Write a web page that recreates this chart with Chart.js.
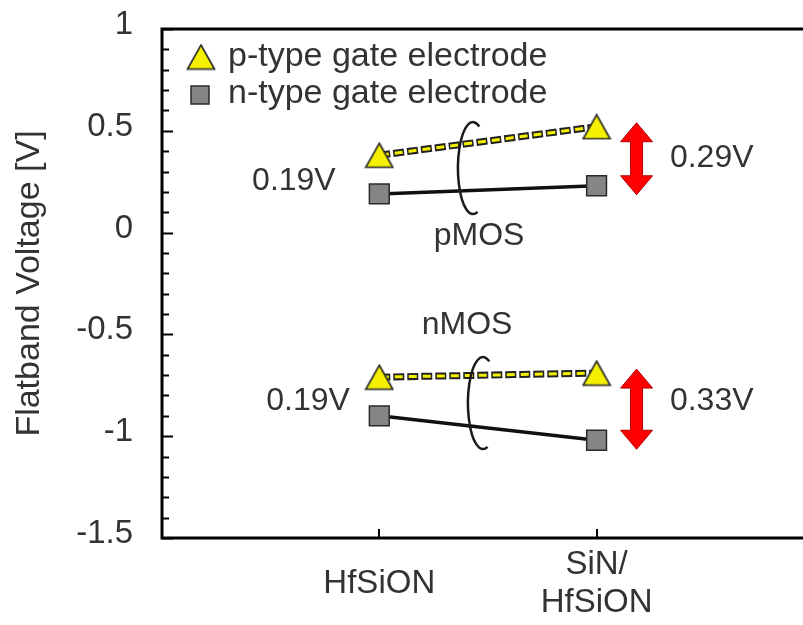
<!DOCTYPE html>
<html>
<head>
<meta charset="utf-8">
<script src="https://cdn.jsdelivr.net/npm/chart.js@4.4.1/dist/chart.umd.min.js"></script>
<style>
  html, body { margin: 0; padding: 0; background: #fff; overflow: hidden; }
  canvas { display: block; }
</style>
</head>
<body>
<canvas id="fbChart" width="803" height="625"></canvas>
<script>
// gate dielectric stacks on the x axis
const categories = ['HfSiON', ['SiN/', 'HfSiON']];
const xPositions = [1, 2];

// flatband voltage [V], pMOS and nMOS, per gate electrode type
const pMosPGate = [0.38, 0.52];
const pMosNGate = [0.19, 0.23];
const nMosPGate = [-0.71, -0.69];
const nMosNGate = [-0.90, -1.02];

const seriesNames = ['p-type gate electrode', 'n-type gate electrode'];
const yTickLabels = [1, 0.5, 0, -0.5, -1, -1.5];

const FONT = "'Liberation Sans', Arial, sans-serif";
const TEXT = '#333';
const YELLOW = '#f4f000';
const GREY = '#858585';

// triangle marker, drawn centred on its bounding box
function makeTriangle() {
  const c = document.createElement('canvas');
  c.width = 30; c.height = 27;
  const g = c.getContext('2d');
  g.beginPath();
  g.moveTo(15, 1.5);
  g.lineTo(28.5, 25.5);
  g.lineTo(1.5, 25.5);
  g.closePath();
  g.fillStyle = YELLOW;
  g.fill();
  g.lineWidth = 1.6;
  g.strokeStyle = '#2a2a2a';
  g.stroke();
  return c;
}
const triangle = makeTriangle();

const pts = vals => xPositions.map((x, i) => ({ x: x, y: vals[i] }));

function pGateSets(vals) {
  return [
    { data: pts(vals), borderColor: '#222', borderWidth: 7, borderDash: [11, 3],
      pointRadius: 0, order: 3 },
    { data: pts(vals), borderColor: YELLOW, borderWidth: 3, borderDash: [8, 6],
      borderDashOffset: -1.5, pointStyle: triangle, order: 2 }
  ];
}
function nGateSet(vals) {
  return { data: pts(vals), borderColor: '#111', borderWidth: 3.5,
    pointStyle: 'rect', pointRadius: 14, backgroundColor: GREY,
    pointBorderColor: '#2a2a2a', pointBorderWidth: 1.5, order: 1 };
}

// shift between the two gate types, at each stack
const shiftNotes = [
  { p: pMosPGate, n: pMosNGate, i: 0, x: 0.607, y: 0.253 },
  { p: nMosPGate, n: nMosNGate, i: 0, x: 0.672, y: -0.827 },
  { p: pMosPGate, n: pMosNGate, i: 1, x: 2.53, y: 0.366, arrow: true },
  { p: nMosPGate, n: nMosNGate, i: 1, x: 2.53, y: -0.827, arrow: true }
];
const groupNotes = [
  { text: 'pMOS', x: 1.459, y: -0.017, arcX: 1.431, arcY: 0.317 },
  { text: 'nMOS', x: 1.404, y: -0.454, arcX: 1.477, arcY: -0.837 }
];

const framePlugin = {
  id: 'frame',
  afterDatasetsDraw(chart) {
    const { ctx, chartArea: a, scales: { x, y } } = chart;
    ctx.save();
    ctx.strokeStyle = '#000';
    ctx.lineWidth = 3;
    ctx.beginPath();
    ctx.moveTo(a.right + 2, a.top);
    ctx.lineTo(a.left, a.top);
    ctx.lineTo(a.left, a.bottom);
    ctx.lineTo(a.right + 2, a.bottom);
    ctx.stroke();
    ctx.lineWidth = 2;
    y.ticks.forEach(t => {
      const py = Math.round(y.getPixelForValue(t.value)) + 0.5;
      const len = t.label ? 11 : 7;
      ctx.beginPath();
      ctx.moveTo(a.left, py);
      ctx.lineTo(a.left + len, py);
      ctx.stroke();
    });
    x.ticks.forEach(t => {
      const px = Math.round(x.getPixelForValue(t.value));
      ctx.beginPath();
      ctx.moveTo(px, a.bottom);
      ctx.lineTo(px, a.bottom - 9);
      ctx.stroke();
    });
    ctx.restore();
  }
};

function drawArrow(ctx, cx, top, bottom) {
  const hw = 6, head = 16, hl = 19;
  ctx.beginPath();
  ctx.moveTo(cx, top);
  ctx.lineTo(cx + head, top + hl);
  ctx.lineTo(cx + hw, top + hl);
  ctx.lineTo(cx + hw, bottom - hl);
  ctx.lineTo(cx + head, bottom - hl);
  ctx.lineTo(cx, bottom);
  ctx.lineTo(cx - head, bottom - hl);
  ctx.lineTo(cx - hw, bottom - hl);
  ctx.lineTo(cx - hw, top + hl);
  ctx.lineTo(cx - head, top + hl);
  ctx.closePath();
  ctx.fillStyle = '#ff0000';
  ctx.fill();
  ctx.lineWidth = 1;
  ctx.strokeStyle = '#b00000';
  ctx.stroke();
}

const notesPlugin = {
  id: 'notes',
  afterDatasetsDraw(chart) {
    const { ctx, scales: { x, y } } = chart;
    ctx.save();
    ctx.fillStyle = TEXT;
    ctx.font = '32px ' + FONT;
    ctx.textAlign = 'center';
    ctx.textBaseline = 'middle';

    shiftNotes.forEach(s => {
      const diff = s.p[s.i] - s.n[s.i];
      ctx.fillStyle = TEXT;
      ctx.fillText(diff.toFixed(2) + 'V', x.getPixelForValue(s.x), y.getPixelForValue(s.y));
      if (s.arrow) {
        const cx = x.getPixelForValue(xPositions[s.i]) + 40;
        drawArrow(ctx, cx, y.getPixelForValue(s.p[s.i]) - 4, y.getPixelForValue(s.n[s.i]) + 9);
      }
    });

    groupNotes.forEach(g => {
      ctx.fillStyle = TEXT;
      ctx.fillText(g.text, x.getPixelForValue(g.x), y.getPixelForValue(g.y));
      ctx.beginPath();
      ctx.ellipse(x.getPixelForValue(g.arcX), y.getPixelForValue(g.arcY), 15, 46, 0,
        -Math.PI * 0.36, Math.PI * 0.4, true);
      ctx.lineWidth = 2.5;
      ctx.strokeStyle = '#1a1a1a';
      ctx.stroke();
    });

    // legend inside the frame
    ctx.textAlign = 'left';
    ctx.font = '34px ' + FONT;
    ctx.drawImage(triangle, 201 - 15, 57 - 13.5);
    ctx.fillStyle = GREY;
    ctx.fillRect(191, 86, 18, 18);
    ctx.lineWidth = 1.5;
    ctx.strokeStyle = '#2a2a2a';
    ctx.strokeRect(191, 86, 18, 18);
    ctx.fillStyle = TEXT;
    ctx.fillText(seriesNames[0], 228, 57);
    ctx.fillText(seriesNames[1], 228, 94);
    ctx.restore();
  }
};

new Chart(document.getElementById('fbChart'), {
  type: 'line',
  data: {
    datasets: [
      ...pGateSets(pMosPGate),
      nGateSet(pMosNGate),
      ...pGateSets(nMosPGate),
      nGateSet(nMosNGate)
    ]
  },
  options: {
    responsive: false,
    devicePixelRatio: 1,
    animation: false,
    layout: { autoPadding: false, padding: { top: 29, left: 0, right: 0, bottom: 0 } },
    plugins: { legend: { display: false }, tooltip: { enabled: false } },
    scales: {
      x: {
        type: 'linear',
        min: 0,
        max: 2.95,
        afterBuildTicks: scale => { scale.ticks = xPositions.map(v => ({ value: v })); },
        afterFit: scale => {
          scale.height = 87;
          scale.paddingLeft = 0;
          scale.paddingRight = 0;
        },
        grid: { display: false, drawTicks: false },
        border: { display: false },
        ticks: {
          autoSkip: false,
          maxRotation: 0,
          crossAlign: 'center',
          padding: 27,
          color: TEXT,
          font: { family: FONT, size: 33, lineHeight: 1.15 },
          callback: (v, i) => categories[i]
        }
      },
      y: {
        min: -1.5,
        max: 1,
        afterFit: scale => {
          scale.width = 162;
          scale.paddingTop = 0;
          scale.paddingBottom = 0;
        },
        grid: { display: false, drawTicks: false },
        border: { display: false },
        ticks: {
          stepSize: 0.1,
          autoSkip: false,
          padding: 29,
          labelOffset: -4,
          color: TEXT,
          font: { family: FONT, size: 33 },
          callback: v => {
            const t = yTickLabels.find(l => Math.abs(l - v) < 1e-6);
            return t === undefined ? '' : String(t);
          }
        },
        title: {
          display: true,
          text: 'Flatband Voltage [V]',
          color: TEXT,
          font: { family: FONT, size: 34 },
          padding: { top: 9, bottom: 0 }
        }
      }
    }
  },
  plugins: [framePlugin, notesPlugin]
});
</script>
</body>
</html>
